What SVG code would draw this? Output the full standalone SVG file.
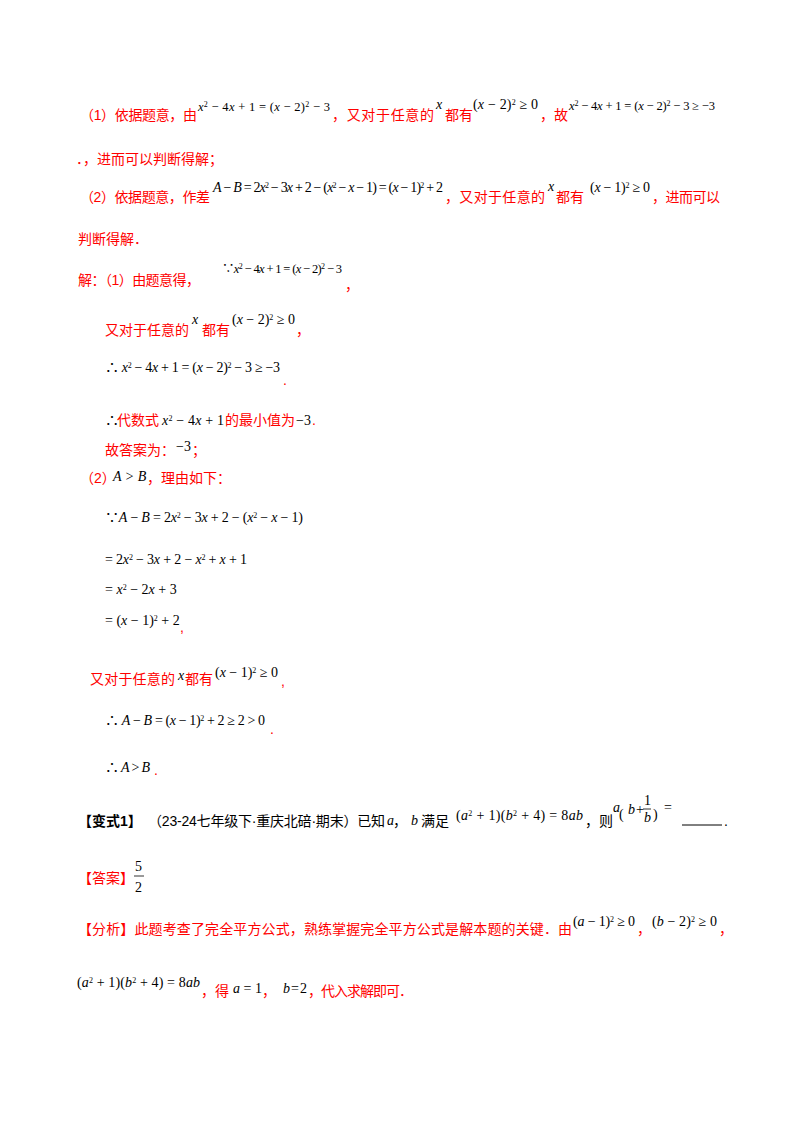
<svg xmlns="http://www.w3.org/2000/svg" width="800" height="1132" viewBox="0 0 800 1132">
<style>
.r{fill:#ff0000;font-family:"Liberation Sans","Noto Sans CJK SC",sans-serif;font-size:14px}
.b{fill:#000;font-family:"Liberation Sans","Noto Sans CJK SC",sans-serif;font-size:14px}
.m{fill:#000;font-family:"Liberation Serif","Noto Sans CJK SC",serif;font-size:14px}
.s{fill:#000;font-family:"Liberation Serif","Noto Sans CJK SC",serif;font-size:12.5px}
.i{font-style:italic}
.p{font-size:8px;baseline-shift:super}
</style>
<rect width="800" height="1132" fill="#fff"/>
<g id="hint">
<text class="r" x="80" y="120" textLength="117">（1）依据题意，由</text>
<text class="s" x="198" y="111" textLength="132"><tspan class="i">x</tspan><tspan class="p">2</tspan> − 4<tspan class="i">x</tspan> + 1 = (<tspan class="i">x</tspan> − 2)<tspan class="p">2</tspan> − 3</text>
<text class="r" x="332" y="120" textLength="102">，又对于任意的</text>
<text class="m i" x="436" y="109">x</text>
<text class="r" x="445" y="120">都有</text>
<text class="m" x="473" y="109" textLength="65">(<tspan class="i">x</tspan> − 2)<tspan class="p">2</tspan> ≥ 0</text>
<text class="r" x="540" y="120">，故</text>
<text class="s" x="569" y="110" textLength="146"><tspan class="i">x</tspan><tspan class="p">2</tspan> − 4<tspan class="i">x</tspan> + 1 = (<tspan class="i">x</tspan> − 2)<tspan class="p">2</tspan> − 3 ≥ −3</text>
<text class="r" x="76" y="164">．，进而可以判断得解；</text>
<text class="r" x="80" y="202" textLength="130">（2）依据题意，作差</text>
<text class="m" x="213" y="192" textLength="230"><tspan class="i">A</tspan> − <tspan class="i">B</tspan> = 2<tspan class="i">x</tspan><tspan class="p">2</tspan> − 3<tspan class="i">x</tspan> + 2 − (<tspan class="i">x</tspan><tspan class="p">2</tspan> − <tspan class="i">x</tspan> − 1) = (<tspan class="i">x</tspan> − 1)<tspan class="p">2</tspan> + 2</text>
<text class="r" x="445" y="202" textLength="100">，又对于任意的</text>
<text class="m i" x="548" y="191">x</text>
<text class="r" x="556" y="202">都有</text>
<text class="m" x="590" y="192" textLength="60">(<tspan class="i">x</tspan> − 1)<tspan class="p">2</tspan> ≥ 0</text>
<text class="r" x="652" y="202" textLength="68">，进而可以</text>
<text class="r" x="78" y="244">判断得解．</text>
</g>
<g id="solution">
<text class="r" x="78" y="285" textLength="122">解：（1）由题意得，</text>
<text class="s" x="222" y="273" textLength="120">∵<tspan class="i">x</tspan><tspan class="p">2</tspan> − 4<tspan class="i">x</tspan> + 1 = (<tspan class="i">x</tspan> − 2)<tspan class="p">2</tspan> − 3</text>
<text class="r" x="345" y="290">，</text>
<text class="r" x="105" y="335" textLength="84">又对于任意的</text>
<text class="m i" x="192" y="324">x</text>
<text class="r" x="202" y="335">都有</text>
<text class="m" x="232" y="324" textLength="63">(<tspan class="i">x</tspan> − 2)<tspan class="p">2</tspan> ≥ 0</text>
<text class="r" x="296" y="335">，</text>
<text class="m" x="105" y="372" textLength="175">∴ <tspan class="i">x</tspan><tspan class="p">2</tspan> − 4<tspan class="i">x</tspan> + 1 = (<tspan class="i">x</tspan> − 2)<tspan class="p">2</tspan> − 3 ≥ −3</text>
<text class="r" x="283" y="385">.</text>
<text class="m" x="105" y="425">∴</text>
<text class="r" x="117" y="425">代数式</text>
<text class="m" x="162" y="425" textLength="62"><tspan class="i">x</tspan><tspan class="p">2</tspan> − 4<tspan class="i">x</tspan> + 1</text>
<text class="r" x="225" y="425">的最小值为</text>
<text class="m" x="296" y="425">−3</text>
<text class="r" x="312" y="425">.</text>
<text class="r" x="105" y="455">故答案为：</text>
<text class="m" x="176" y="451">−3</text>
<text class="r" x="192" y="455">；</text>
<text class="r" x="80" y="483">（2）</text>
<text class="m i" x="113" y="481">A &gt; B</text>
<text class="r" x="147" y="483">，理由如下：</text>
<text class="m" x="105" y="522" textLength="198">∵<tspan class="i">A</tspan> − <tspan class="i">B</tspan> = 2<tspan class="i">x</tspan><tspan class="p">2</tspan> − 3<tspan class="i">x</tspan> + 2 − (<tspan class="i">x</tspan><tspan class="p">2</tspan> − <tspan class="i">x</tspan> − 1)</text>
<text class="m" x="105" y="564" textLength="142">= 2<tspan class="i">x</tspan><tspan class="p">2</tspan> − 3<tspan class="i">x</tspan> + 2 − <tspan class="i">x</tspan><tspan class="p">2</tspan> + <tspan class="i">x</tspan> + 1</text>
<text class="m" x="105" y="594">= <tspan class="i">x</tspan><tspan class="p">2</tspan> − 2<tspan class="i">x</tspan> + 3</text>
<text class="m" x="105" y="625">= (<tspan class="i">x</tspan> − 1)<tspan class="p">2</tspan> + 2</text>
<text class="r" x="180" y="632">,</text>
<text class="r" x="90" y="684" textLength="85">又对于任意的</text>
<text class="m i" x="178" y="680">x</text>
<text class="r" x="185" y="684">都有</text>
<text class="m" x="215" y="677" textLength="63">(<tspan class="i">x</tspan> − 1)<tspan class="p">2</tspan> ≥ 0</text>
<text class="r" x="281" y="686">,</text>
<text class="m" x="105" y="725" textLength="160">∴ <tspan class="i">A</tspan> − <tspan class="i">B</tspan> = (<tspan class="i">x</tspan> − 1)<tspan class="p">2</tspan> + 2 ≥ 2 &gt; 0</text>
<text class="r" x="270" y="734">.</text>
<text class="m" x="105" y="772" textLength="45">∴ <tspan class="i">A</tspan> &gt; <tspan class="i">B</tspan></text>
<text class="r" x="154" y="775">.</text>
</g>
<g id="variant">
<text class="b" x="78" y="826" font-weight="bold" font-size="15">【变式1】</text>
<text class="b" x="148" y="826" font-size="13" textLength="237">（23-24七年级下·重庆北碚·期末）已知</text>
<text class="m i" x="387" y="825">a</text>
<text class="b" x="393" y="826">，</text>
<text class="m i" x="411" y="825">b</text>
<text class="b" x="421" y="826" font-size="13">满足</text>
<text class="m" x="456" y="820" textLength="127">(<tspan class="i">a</tspan><tspan class="p">2</tspan> + 1)(<tspan class="i">b</tspan><tspan class="p">2</tspan> + 4) = 8<tspan class="i">ab</tspan></text>
<text class="b" x="585" y="826" font-size="13">，则</text>
<text class="m i" x="613" y="812">a</text>
<text class="m" x="619" y="819" font-size="24">(</text>
<text class="m i" x="628" y="814">b</text>
<text class="m" x="636" y="814">+</text>
<text class="m" x="644" y="805" font-size="12">1</text>
<line x1="643" y1="809" x2="651" y2="809" stroke="#000" stroke-width="0.8"/>
<text class="m i" x="644" y="822" font-size="12">b</text>
<text class="m" x="653" y="819" font-size="24">)</text>
<text class="m" x="664" y="812">=</text>
<line x1="682" y1="825" x2="722" y2="825" stroke="#000" stroke-width="1"/>
<text class="b" x="724" y="826">.</text>
</g>
<g id="answer">
<text class="r" x="78" y="883">【答案】</text>
<text class="m" x="135" y="871">5</text>
<line x1="134" y1="876" x2="144" y2="876" stroke="#000" stroke-width="0.8"/>
<text class="m" x="135" y="892">2</text>
</g>
<g id="analysis">
<text class="r" x="78" y="934" textLength="494">【分析】此题考查了完全平方公式，熟练掌握完全平方公式是解本题的关键．由</text>
<text class="m" x="573" y="926" textLength="62">(<tspan class="i">a</tspan> − 1)<tspan class="p">2</tspan> ≥ 0</text>
<text class="r" x="637" y="934">，</text>
<text class="m" x="652" y="926" textLength="65">(<tspan class="i">b</tspan> − 2)<tspan class="p">2</tspan> ≥ 0</text>
<text class="r" x="719" y="934">，</text>
<text class="m" x="77" y="987" textLength="123">(<tspan class="i">a</tspan><tspan class="p">2</tspan> + 1)(<tspan class="i">b</tspan><tspan class="p">2</tspan> + 4) = 8<tspan class="i">ab</tspan></text>
<text class="r" x="201" y="996">，得</text>
<text class="m" x="233" y="993" textLength="29"><tspan class="i">a</tspan> = 1</text>
<text class="r" x="262" y="996">，</text>
<text class="m" x="283" y="993" textLength="24"><tspan class="i">b</tspan> = 2</text>
<text class="r" x="308" y="996" textLength="105">，代入求解即可．</text>
</g>
</svg>
